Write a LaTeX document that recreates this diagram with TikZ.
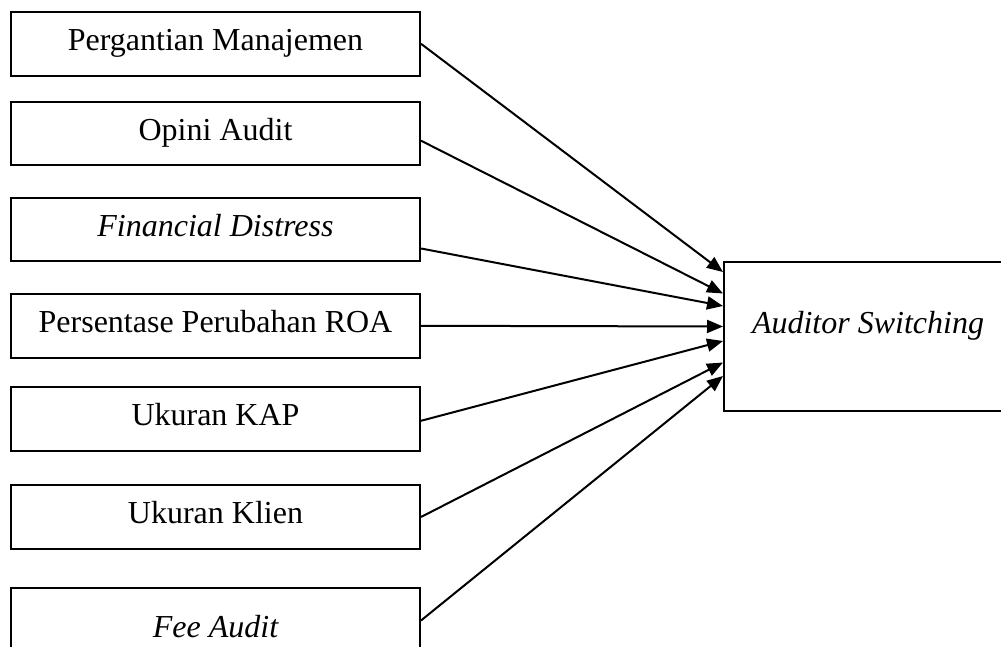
\documentclass[tikz,border=0pt]{standalone}
\usepackage{fontspec}
\setmainfont{Liberation Serif}
\usetikzlibrary{arrows.meta}
\begin{document}
\begin{tikzpicture}[x=1pt,y=1pt,
  varbox/.style={draw=black,line width=2pt,minimum width=409pt,minimum height=63.5pt,
    inner sep=0pt,text height=22pt,text depth=8pt,
    font=\fontsize{32}{38}\selectfont},
  conn/.style={line width=2pt,-{Triangle[length=16pt,width=13pt]}}]
\useasboundingbox (0,0) rectangle (1001,647);
\node[varbox] (b1) at (215.5,603.2) {Pergantian Manajemen};
\node[varbox] (b2) at (215.5,513.7) {Opini Audit};
\node[varbox] (b3) at (215.5,417.5) {\itshape Financial Distress};
\node[varbox] (b4) at (215.5,321.2) {Persentase Perubahan ROA};
\node[varbox] (b5) at (215.5,228.2) {Ukuran KAP};
\node[varbox] (b6) at (215.5,130) {Ukuran Klien};
\node[varbox,minimum height=86pt] (b7) at (215.5,16) {\itshape Fee Audit};
\node[varbox,minimum width=288pt,minimum height=149pt,text height=22pt,text depth=27pt]
  (R) at (868,310.5) {\itshape Auditor Switching};
\draw[conn] (b1.east) -- ([yshift=64.5pt]R.west);
\draw[conn] ([yshift=-7.4pt]b2.east) -- ([yshift=43pt]R.west);
\draw[conn] ([yshift=-19pt]b3.east) -- ([yshift=30.5pt]R.west);
\draw[conn] (b4.east) -- ([yshift=10pt]R.west);
\draw[conn] ([yshift=-2pt]b5.east) -- ([yshift=-4.5pt]R.west);
\draw[conn] (b6.east) -- ([yshift=-26pt]R.west);
\draw[conn] ([yshift=10.5pt]b7.east) -- ([yshift=-39.5pt]R.west);
\end{tikzpicture}
\end{document}
